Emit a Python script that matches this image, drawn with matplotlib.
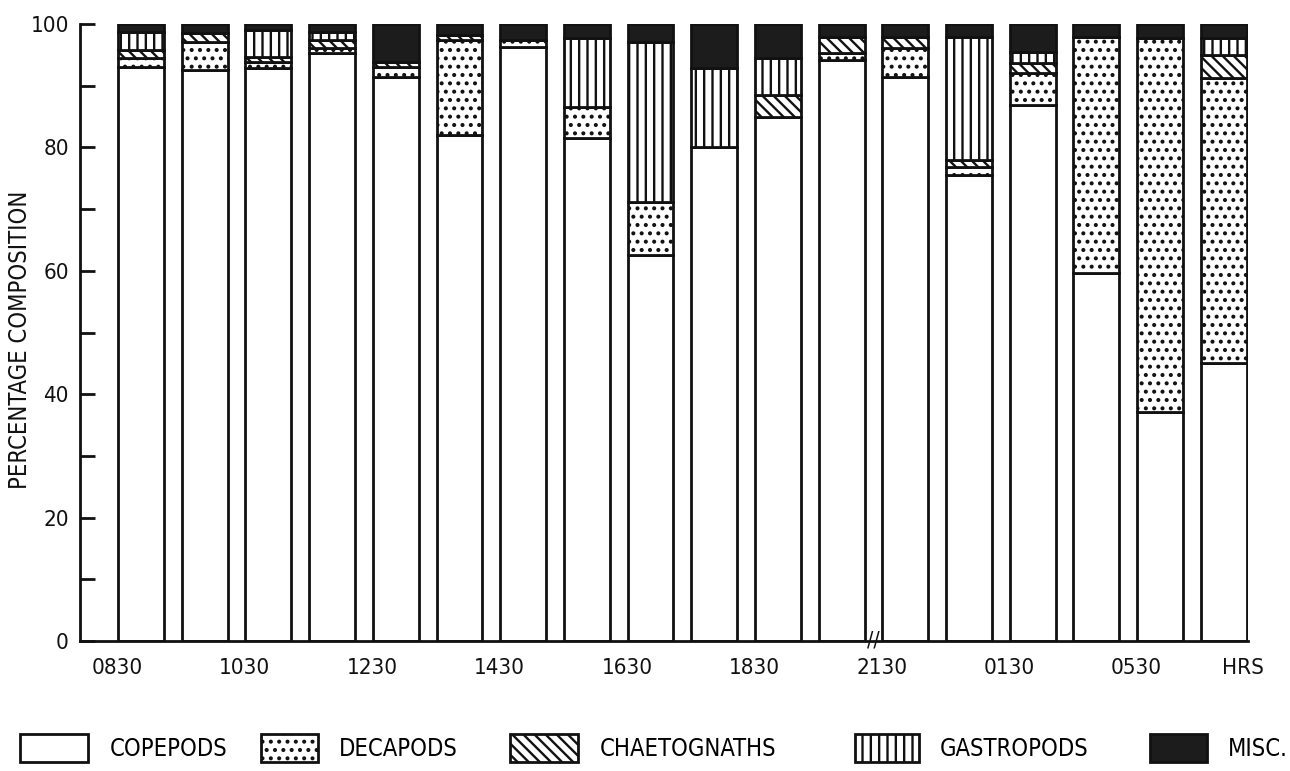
import numpy as np
import matplotlib
matplotlib.use("Agg")
import matplotlib.pyplot as plt

# ---- data (percent composition, bottom to top) ----
tick_labels = ["0830", "1030", "1230", "1430", "1630", "1830", "2130", "0130", "0530"]
groups = ["COPEPODS", "DECAPODS", "CHAETOGNATHS", "GASTROPODS", "MISC."]

copepods     = [93.0, 92.5, 92.9, 95.3, 91.4, 82.0, 96.3, 81.5, 62.6, 80.1, 84.9, 94.2, 91.4, 75.5, 86.9, 59.6, 37.1, 45.1]
decapods     = [1.5, 4.6, 0.9, 0.8, 1.6, 15.4, 1.1, 5.0, 8.6, 0.0, 0.0, 1.1, 4.7, 1.3, 5.2, 38.3, 60.6, 46.1]
chaetognaths = [1.3, 1.4, 0.9, 1.3, 0.8, 0.8, 0.0, 0.0, 0.0, 0.0, 3.6, 2.6, 1.8, 1.2, 1.6, 0.0, 0.0, 3.8]
gastropods   = [2.9, 0.0, 4.3, 1.3, 0.0, 0.0, 0.0, 11.2, 25.9, 12.8, 6.0, 0.0, 0.0, 19.9, 1.8, 0.0, 0.0, 2.7]
misc         = [1.3, 1.5, 1.0, 1.3, 6.2, 1.8, 2.6, 2.3, 2.9, 7.1, 5.5, 2.1, 2.1, 2.1, 4.5, 2.1, 2.3, 2.3]

series = [copepods, decapods, chaetognaths, gastropods, misc]

plt.rcParams['font.family'] = ['DejaVu Sans']
plt.rcParams['font.stretch'] = 'condensed'
plt.rcParams['hatch.linewidth'] = 1.7
plt.rcParams['hatch.color'] = '#111111'

W, H = 1290, 771
fig = plt.figure(figsize=(W / 100, H / 100), dpi=100)
ax = fig.add_axes([80 / W, 1 - 641 / H, 1168 / W, 617 / H])

styles = [
    dict(facecolor="white", hatch=None),
    dict(facecolor="white", hatch=".."),
    dict(facecolor="white", hatch="\\\\\\"),
    dict(facecolor="white", hatch="||"),
    dict(facecolor="#1c1c1c", hatch=None),
]

x = np.arange(1, len(copepods) + 1)
bottom = np.zeros(len(x))
handles = []
for vals, st in zip(series, styles):
    v = np.array(vals)
    b = ax.bar(x, v, width=0.72, bottom=bottom, facecolor=st["facecolor"],
               hatch=st["hatch"], edgecolor="#111111", linewidth=2.0, zorder=2)
    handles.append(b)
    bottom += v

ax.set_xlim(0.042, 18.38)
ax.set_ylim(0, 100)

for s in ["top", "right"]:
    ax.spines[s].set_visible(False)
for s in ["left", "bottom"]:
    ax.spines[s].set_linewidth(2.0)
    ax.spines[s].set_color("#111111")

ax.set_yticks(np.arange(0, 101, 10))
ax.set_yticklabels([str(v) if v % 20 == 0 else "" for v in range(0, 101, 10)], fontsize=16)
ax.tick_params(axis="y", direction="in", length=11, width=2, pad=8, colors="#111111")

xt = [i - 0.37 for i in range(1, 18, 2)] + [18.3]
ax.set_xticks(xt)
ax.set_xticklabels(tick_labels + ["HRS"], fontsize=16)
ax.tick_params(axis="x", length=0, pad=12, colors="#111111")

ax.set_ylabel("PERCENTAGE COMPOSITION", fontsize=17, color="#111111")
ax.yaxis.set_label_coords(-0.041, 0.488)

# axis break mark
ax.text(12.5, 0, "//", fontsize=15, ha="center", va="center", color="#111111",
        transform=ax.transData, clip_on=False, zorder=5)

# legend entries placed individually
leg_x = [20, 261, 510, 855, 1150]
leg_len = [2.9, 2.4, 2.9, 2.7, 2.4]
for h, lab, lx, ll in zip(handles, groups, leg_x, leg_len):
    fig.legend([h], [lab], loc="center left", bbox_to_anchor=(lx / W, 1 - 748 / H),
               frameon=False, borderpad=0, borderaxespad=0, handlelength=ll,
               handleheight=1.4, handletextpad=0.9, fontsize=17)

fig.savefig("out.png", dpi=100, facecolor="white")
